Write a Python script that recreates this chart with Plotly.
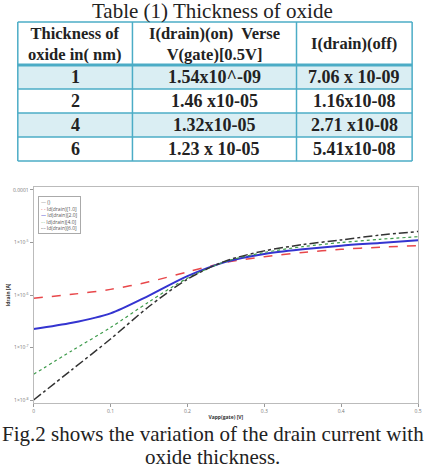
import plotly.graph_objects as go

# ---- table data ----
table_title = "Table (1) Thickness of oxide"
col_headers = ["Thickness of<br>oxide in( nm)", "I(drain)(on)  Verse<br>V(gate)[0.5V]", "I(drain)(off)"]
thickness = ["1", "2", "4", "6"]
id_on = ["1.54x10^-09", "1.46 x10-05", "1.32x10-05", "1.23 x 10-05"]
id_off = ["7.06 x 10-09", "1.16x10-08", "2.71 x10-08", "5.41x10-08"]

# ---- chart data ----
vgate = [0, 0.05, 0.1, 0.15, 0.2, 0.25, 0.3, 0.35, 0.4, 0.45, 0.5]
id_tox1 = [8.7e-7, 1.03e-6, 1.28e-6, 1.78e-6, 2.75e-6, 4.17e-6, 5.37e-6, 6.46e-6, 7.41e-6, 8.13e-6, 8.71e-6]
id_tox2 = [2.24e-7, 2.95e-7, 4.47e-7, 9.77e-7, 2.29e-6, 4.27e-6, 6.03e-6, 7.41e-6, 8.71e-6, 9.77e-6, 1.10e-5]
id_tox4 = [3.09e-8, 8.71e-8, 2.40e-7, 7.41e-7, 2.09e-6, 4.37e-6, 6.46e-6, 8.32e-6, 1.0e-5, 1.15e-5, 1.29e-5]
id_tox6 = [1.0e-8, 3.80e-8, 1.45e-7, 6.03e-7, 2.0e-6, 4.47e-6, 6.92e-6, 9.12e-6, 1.12e-5, 1.38e-5, 1.62e-5]
series_names = ["Id(drain)[1.0]", "Id(drain)[2.0]", "Id(drain)[4.0]", "Id(drain)[6.0]"]
ytick_vals = [1e-8, 1e-7, 1e-6, 1e-5, 1e-4]
ytick_text = ["1\u00d710<sup>-8</sup>", "1\u00d710<sup>-7</sup>", "1\u00d710<sup>-6</sup>", "1\u00d710<sup>-5</sup>", "0.0001"]
xtick_vals = [0, 0.1, 0.2, 0.3, 0.4, 0.5]
caption_lines = ["Fig.2 shows the variation of the drain current with", "oxide thickness."]

W, H = 428, 468
def py(p):
    return 1 - p / H
def px(p):
    return p / W

teal = "#4BACC6"
shade = "#DAEEF3"
serif = "Liberation Serif"

fig = go.Figure()

# ---- table drawn as shapes + text ----
col_edges = [17, 133, 299, 416]
row_edges = [22, 65, 89, 113, 137, 161]
columns = [thickness, id_on, id_off]
n_rows = len(thickness)
for r in range(n_rows):
    if r % 2 == 0:
        fig.add_shape(type="rect", xref="paper", yref="paper",
                      x0=px(col_edges[0]), x1=px(col_edges[-1]),
                      y0=py(row_edges[r + 1]), y1=py(row_edges[r + 2]),
                      fillcolor=shade, line=dict(width=0), layer="below")
for i, ye in enumerate(row_edges):
    fig.add_shape(type="line", xref="paper", yref="paper",
                  x0=px(col_edges[0]), x1=px(col_edges[-1]), y0=py(ye), y1=py(ye),
                  line=dict(color=teal, width=3 if i == 1 else 1.5))
for xe in col_edges:
    fig.add_shape(type="line", xref="paper", yref="paper",
                  x0=px(xe), x1=px(xe), y0=py(row_edges[0]), y1=py(row_edges[-1]),
                  line=dict(color=teal, width=1.5))
for c, hdr in enumerate(col_headers):
    xc = (col_edges[c] + col_edges[c + 1]) / 2
    fig.add_annotation(xref="paper", yref="paper", x=px(xc), y=py((row_edges[0] + row_edges[1]) / 2),
                       text="<b>%s</b>" % hdr, showarrow=False, align="center",
                       xanchor="center", yanchor="middle",
                       font=dict(family=serif, size=16.5, color="#222"))
    for r in range(n_rows):
        yc = (row_edges[r + 1] + row_edges[r + 2]) / 2
        fig.add_annotation(xref="paper", yref="paper", x=px(xc), y=py(yc),
                           text="<b>%s</b>" % columns[c][r], showarrow=False,
                           xanchor="center", yanchor="middle",
                           font=dict(family=serif, size=18, color="#222"))

styles = [
    dict(color="#e8474a", dash="dash", width=1.5),
    dict(color="#3434d0", dash="solid", width=2),
    dict(color="#3c9a4a", dash="dot", width=1.2),
    dict(color="#333333", dash="dashdot", width=1.5),
]
for name, ys, st in zip(series_names, [id_tox1, id_tox2, id_tox4, id_tox6], styles):
    fig.add_trace(go.Scatter(x=vgate, y=ys, mode="lines", name=name,
                             line=dict(shape="spline", smoothing=0.8, **st), showlegend=False))

fig.update_layout(
    width=W, height=H,
    margin=dict(l=0, r=0, t=0, b=0),
    paper_bgcolor="white", plot_bgcolor="white",
    xaxis=dict(domain=[px(33), px(422)], range=[0, 0.5], tickvals=xtick_vals,
               ticks="outside", ticklen=3, tickcolor="#999", showgrid=False, zeroline=False,
               showline=True, linecolor="#bbb", mirror=True,
               tickfont=dict(size=5, color="#777"),
               title=dict(text="<b>Vapp(gate) [V]</b>", font=dict(size=5, color="#333"), standoff=2)),
    yaxis=dict(domain=[py(403), py(187)], type="log", range=[-8.057, -3.943],
               tickvals=ytick_vals, ticktext=ytick_text,
               ticks="outside", ticklen=3, tickcolor="#999", showgrid=False, zeroline=False,
               showline=True, linecolor="#bbb", mirror=True,
               tickfont=dict(size=5, color="#777"),
               title=dict(text="<b>Idrain [A]</b>", font=dict(size=5, color="#333"), standoff=2)),
)

# titles / caption
fig.add_annotation(xref="paper", yref="paper", x=0.5, y=py(11), text=table_title,
                   xanchor="center", yanchor="middle",
                   showarrow=False, font=dict(family=serif, size=21, color="#222"))
fig.add_annotation(xref="paper", yref="paper", x=0.5, y=py(434), text=caption_lines[0],
                   xanchor="center", yanchor="middle",
                   showarrow=False, font=dict(family=serif, size=21, color="#222"))
fig.add_annotation(xref="paper", yref="paper", x=0.5, y=py(457), text=caption_lines[1],
                   xanchor="center", yanchor="middle",
                   showarrow=False, font=dict(family=serif, size=21, color="#222"))

# legend box
marks = ["- -", "\u2014", "\u00b7\u00b7\u00b7", "-\u00b7-"]
legend_lines = ["<span style='color:#999'>\u2014</span> ()"] + [
    "<span style='color:%s'>%s</span> %s" % (st["color"], m, n)
    for m, n, st in zip(marks, series_names, styles)]
fig.add_annotation(xref="paper", yref="paper", x=px(37), y=py(196), xanchor="left", yanchor="top",
                   text="<br>".join(legend_lines), align="left", showarrow=False,
                   font=dict(size=5, color="#555"), bordercolor="#aaa", borderwidth=1, borderpad=2,
                   bgcolor="white")

fig.write_html("out.html")
